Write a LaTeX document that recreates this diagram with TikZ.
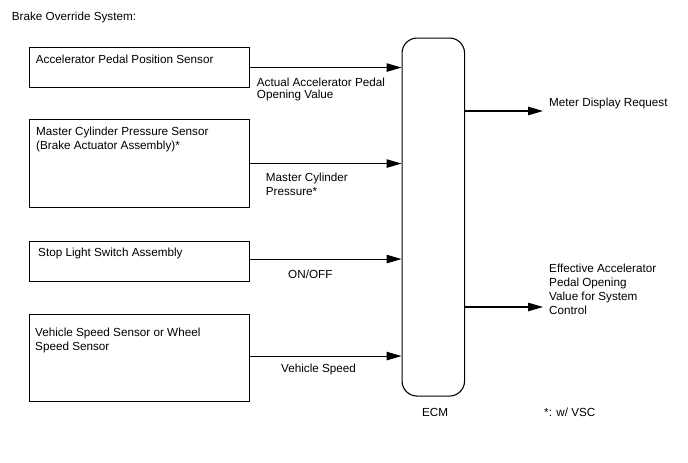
\documentclass[tikz,border=0pt]{standalone}
\usepackage{fontspec}
\setmainfont{Liberation Sans}
\usetikzlibrary{arrows.meta}
\begin{document}
\begin{tikzpicture}[x=1pt,y=-1pt,
  every node/.style={font=\fontsize{11.7pt}{14pt}\selectfont},
  box/.style={draw,line width=1.1pt,inner sep=0pt,minimum width=220pt,anchor=north west},
  txt/.style={inner sep=0pt,anchor=north west,align=left},
  arr/.style={line width=1.1pt,-{Triangle[length=15pt,width=8.5pt]}}]
\useasboundingbox (0,0) rectangle (688,463);
\node[txt] (title) at (11.7,11.8) {Brake Override System:};
% input boxes
\node[box,minimum height=40pt] (b1) at (29,47) {};
\node[box,minimum height=88pt] (b2) at (29,119) {};
\node[box,minimum height=40pt] (b3) at (29,241) {};
\node[box,minimum height=87pt] (b4) at (29,314) {};
\node[txt] (t1) at (35.7,54.8) {Accelerator Pedal Position Sensor};
\node[txt] (t2) at (36,126.8) {Master Cylinder Pressure Sensor\\(Brake Actuator Assembly)*};
\node[txt] (t3) at (38,247.5) {Stop Light Switch Assembly};
\node[txt] (t4) at (35,327.5) {Vehicle Speed Sensor or Wheel\\Speed Sensor};
% ECM
\node[draw,line width=1.1pt,rounded corners=15pt,inner sep=0pt,minimum width=62.5pt,minimum height=358pt,anchor=north west] (ecm) at (401.5,37.5) {};
\node[inner sep=0pt] (ecml) at (435,412) {ECM};
% input arrows
\draw[arr] (b1.east) -- (b1.east -| ecm.west);
\draw[arr] (b2.east) -- (b2.east -| ecm.west);
\draw[arr] ([yshift=2.5pt]b3.east) -- ([yshift=2.5pt]b3.east -| ecm.west);
\draw[arr] ([yshift=2pt]b4.east) -- ([yshift=2pt]b4.east -| ecm.west);
% input labels
\node[txt,text depth=0pt,execute at begin node={\setlength{\baselineskip}{12.7pt}}] (l1) at (256.7,77.5) {Actual Accelerator Pedal\\Opening Value};
\node[txt] (l2) at (265.7,172.5) {Master Cylinder\\Pressure*};
\node[txt] (l3) at (288,269.8) {ON/OFF};
\node[txt] (l4) at (281,363.5) {Vehicle Speed};
% outputs
\coordinate (o1) at (543,111);
\coordinate (o2) at (543,307);
\draw[arr] (ecm.east |- o1) -- (o1);
\draw[arr] (ecm.east |- o2) -- (o2);
\node[txt] (m1) at (549,97.8) {Meter Display Request};
\node[txt] (m2) at (549,263.8) {Effective Accelerator\\Pedal Opening\\Value for System\\Control};
\node[txt] (note) at (544,407.8) {*: w/ VSC};
\end{tikzpicture}
\end{document}
